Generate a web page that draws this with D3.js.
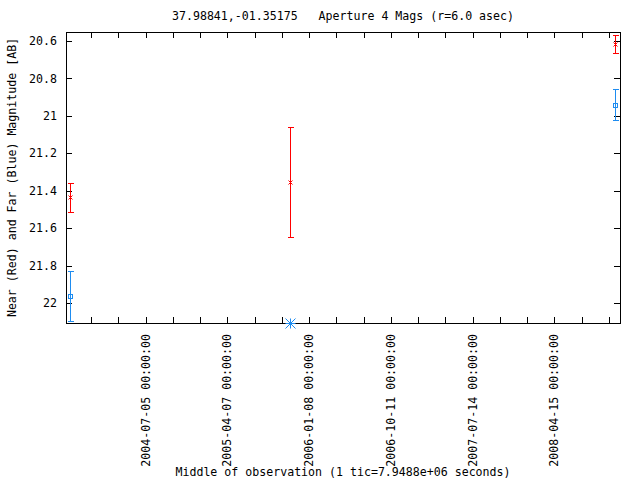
<!DOCTYPE html>
<html><head><meta charset="utf-8">
<script src="https://cdn.jsdelivr.net/npm/d3@7"></script>
<style>body{margin:0;background:#fff}svg{display:block}text{white-space:pre}</style>
</head><body>
<svg id="c" width="640" height="480"></svg>
<script>
// ---- data ----
const titleText = "37.98841,-01.35175   Aperture 4 Mags (r=6.0 asec)";
const xLabelText = "Middle of observation (1 tic=7.9488e+06 seconds)";
const yLabelText = "Near (Red) and Far (Blue) Magnitude [AB]";

const nearDates  = ["2003-10-24", "2005-11-06", "2008-11-05"];
const nearMag    = [21.433, 21.354, 20.616];
const nearErrLo  = [21.361, 21.060, 20.570];
const nearErrHi  = [21.514, 21.648, 20.666];

const farDates   = ["2003-10-24", "2008-11-05"];
const farMag     = [21.964, 20.944];
const farErrLo   = [21.830, 20.858];
const farErrHi   = [22.097, 21.022];

const farLimitDates = ["2005-11-06"];
const farLimitMag   = [22.107];

const yTicks = [20.6, 20.8, 21, 21.2, 21.4, 21.6, 21.8, 22];
const xTickLabels = ["2004-07-05", "2005-04-07", "2006-01-08", "2006-10-11", "2007-07-14", "2008-04-15"];
const xTicDays = 92;
const xDomain = ["2003-10-10", "2008-11-23"];
const yDomain = [20.552, 22.107];

// ---- chart ----
const parse = d3.utcParse("%Y-%m-%d");
const L = 66, R = 620, T = 32, B = 323;
const FONT = "'DejaVu Sans Mono', 'Liberation Mono', monospace";
const FS = "11.6px";
const RED = "#ff0000", BLUE = "#1e8cf0";

const svg = d3.select("#c");
svg.append("rect").attr("width", 640).attr("height", 480).attr("fill", "#fff");

const x = d3.scaleUtc().domain(xDomain.map(parse)).range([L, R]);
const y = d3.scaleLinear().domain(yDomain).range([T, B]);

// tick dates every 92 days
const base = parse(xTickLabels[0]);
const tickDates = [];
for (let k = -10; k <= 40; k++) {
  const d = d3.utcDay.offset(base, k * xTicDays);
  if (d >= x.domain()[0] && d <= x.domain()[1]) tickDates.push(d);
}

const crisp = g => g.attr("shape-rendering", "crispEdges");

// axes (ticks inward, mirrored)
const gL = svg.append("g").attr("transform", `translate(${L},0)`).call(
  d3.axisLeft(y).tickValues(yTicks).tickSize(-6).tickSizeOuter(0).tickPadding(9).tickFormat(d => String(d)));
const gR = svg.append("g").attr("transform", `translate(${R},0)`).call(
  d3.axisRight(y).tickValues(yTicks).tickSize(-6).tickSizeOuter(0).tickFormat(""));
const gB = svg.append("g").attr("transform", `translate(0,${B})`).call(
  d3.axisBottom(x).tickValues(tickDates).tickSize(-6).tickSizeOuter(0).tickFormat(""));
const gT = svg.append("g").attr("transform", `translate(0,${T})`).call(
  d3.axisTop(x).tickValues(tickDates).tickSize(-6).tickSizeOuter(0).tickFormat(""));

[gL, gR, gB, gT].forEach(g => {
  g.select(".domain").remove();
  g.selectAll("line").attr("stroke", "#000").call(crisp);
  g.selectAll("text").attr("font-family", FONT).attr("font-size", FS).attr("fill", "#000");
});

// frame
svg.append("rect").attr("x", L + 0.5).attr("y", T + 0.5)
  .attr("width", R - L).attr("height", B - T)
  .attr("fill", "none").attr("stroke", "#000").call(crisp);

// x tick labels (rotated)
svg.append("g").selectAll("text").data(xTickLabels).join("text")
  .attr("transform", d => `translate(${x(parse(d))},${B + 11}) rotate(-90)`)
  .attr("text-anchor", "end").attr("dy", "0.35em")
  .attr("font-family", FONT).attr("font-size", FS)
  .text(d => d + " 00:00:00");

// title & labels
svg.append("text").attr("x", (L + R) / 2).attr("y", 16).attr("dy", "0.35em")
  .attr("text-anchor", "middle").attr("font-family", FONT).attr("font-size", FS)
  .text(titleText);
svg.append("text").attr("x", (L + R) / 2).attr("y", 472).attr("dy", "0.35em")
  .attr("text-anchor", "middle").attr("font-family", FONT).attr("font-size", FS)
  .text(xLabelText);
svg.append("text").attr("transform", `translate(12,${(T + B) / 2}) rotate(-90)`)
  .attr("dy", "0.35em").attr("text-anchor", "middle")
  .attr("font-family", FONT).attr("font-size", FS)
  .text(yLabelText);

// error bars
function errorBars(dates, mag, lo, hi, color) {
  const data = dates.map((d, i) => ({ x: Math.round(x(parse(d))) + 0.5, m: mag[i], lo: lo[i], hi: hi[i] }));
  const g = svg.append("g").attr("stroke", color).attr("fill", "none").call(crisp);
  g.selectAll(".v").data(data).join("line")
    .attr("x1", d => d.x).attr("x2", d => d.x)
    .attr("y1", d => Math.round(y(d.lo)) + 0.5).attr("y2", d => Math.round(y(d.hi)) + 0.5);
  g.selectAll(".c1").data(data).join("line")
    .attr("x1", d => d.x - 3).attr("x2", d => d.x + 3)
    .attr("y1", d => Math.round(y(d.lo)) + 0.5).attr("y2", d => Math.round(y(d.lo)) + 0.5);
  g.selectAll(".c2").data(data).join("line")
    .attr("x1", d => d.x - 3).attr("x2", d => d.x + 3)
    .attr("y1", d => Math.round(y(d.hi)) + 0.5).attr("y2", d => Math.round(y(d.hi)) + 0.5);
  return data;
}

const nd = errorBars(nearDates, nearMag, nearErrLo, nearErrHi, RED);
const fd = errorBars(farDates, farMag, farErrLo, farErrHi, BLUE);

// near markers: x cross
svg.append("g").attr("stroke", RED).selectAll("path").data(nd).join("path")
  .attr("d", d => {
    const cx = d.x, cy = Math.round(y(d.m)) + 0.5, s = 2;
    return `M${cx - s},${cy - s}L${cx + s},${cy + s}M${cx - s},${cy + s}L${cx + s},${cy - s}`;
  });

// far markers: open squares
svg.append("g").attr("stroke", BLUE).attr("fill", "none").call(crisp)
  .selectAll("rect").data(fd).join("rect")
  .attr("x", d => d.x - 2).attr("y", d => Math.round(y(d.m)) + 0.5 - 2)
  .attr("width", 4).attr("height", 4);

// far limit markers: asterisk
svg.append("g").attr("stroke", BLUE)
  .selectAll("path").data(farLimitDates.map((d, i) => ({ x: Math.round(x(parse(d))) + 0.5, m: farLimitMag[i] })))
  .join("path")
  .attr("d", d => {
    const cx = d.x, cy = Math.round(y(d.m)) + 0.5, s = 5;
    return `M${cx - s},${cy}L${cx + s},${cy}M${cx},${cy - s}L${cx},${cy + s}` +
           `M${cx - s},${cy - s}L${cx + s},${cy + s}M${cx - s},${cy + s}L${cx + s},${cy - s}`;
  });
</script>
</body></html>
